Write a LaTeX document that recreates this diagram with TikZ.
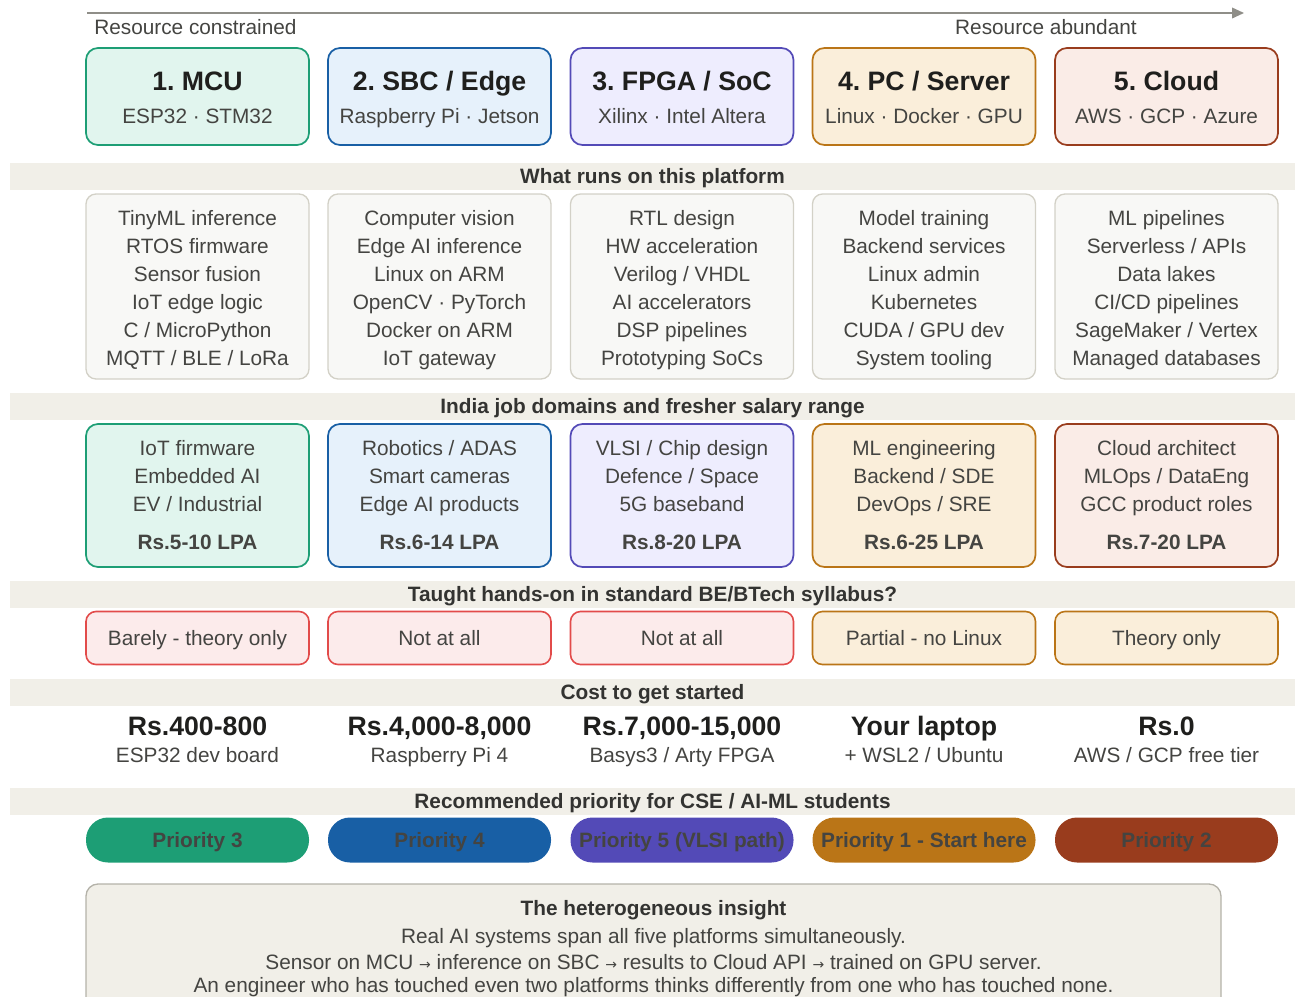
\documentclass[tikz,border=0pt]{standalone}
\usepackage{fontspec}
\setmainfont{Liberation Sans}
\newfontfamily\symfont{DejaVu Sans}
\usepackage{tikz}
\usetikzlibrary{positioning, arrows.meta}
\frenchspacing

\definecolor{ink}{HTML}{444441}
\definecolor{dark}{HTML}{1F1F1D}
\definecolor{head}{HTML}{333331}
\definecolor{bandfill}{HTML}{F1EFE8}
\definecolor{runfill}{HTML}{F8F8F6}
\definecolor{runline}{HTML}{D3D1C7}
\definecolor{axis}{HTML}{8F8E88}
\definecolor{mcufill}{HTML}{E1F5EE}
\definecolor{mculine}{HTML}{1D9E75}
\definecolor{sbcfill}{HTML}{E6F1FB}
\definecolor{sbcline}{HTML}{185FA5}
\definecolor{fpgafill}{HTML}{EEEDFE}
\definecolor{fpgaline}{HTML}{534AB7}
\definecolor{pcfill}{HTML}{FAEEDA}
\definecolor{pcline}{HTML}{BA7517}
\definecolor{cloudfill}{HTML}{FAECE7}
\definecolor{cloudline}{HTML}{993C1D}
\definecolor{redfill}{HTML}{FCEBEB}
\definecolor{redline}{HTML}{E24B4A}
\definecolor{insightline}{HTML}{B4B2A9}

\newcommand{\bodyfont}{\fontsize{15.6}{21}\selectfont}
\newcommand{\bigfont}{\fontsize{20}{24}\selectfont\bfseries}
\newcommand{\arr}{{\symfont\fontsize{10.5}{12}\selectfont →}}

\begin{document}
\begin{tikzpicture}[x=0.75pt, y=-0.75pt,
  txt/.style={inner sep=0pt, text height=11.2pt, text depth=0pt, font=\bodyfont, text=ink},
  ttl/.style={inner sep=0pt, text height=14.3pt, text depth=0pt, font=\bigfont, text=dark},
  multi/.style={inner sep=0pt, align=center, font=\bodyfont, text=ink},
  band/.style={fill=bandfill, inner sep=0pt, minimum width=963.75pt, minimum height=20.25pt,
    text height=11.2pt, text depth=0pt, font=\bodyfont\bfseries, text=head},
  platbox/.style={rounded corners=9pt, line width=1.3pt, minimum width=167.25pt, minimum height=72.75pt, inner sep=0pt},
  runbox/.style={draw=runline, fill=runfill, rounded corners=7.5pt, line width=1pt, minimum width=167.25pt, minimum height=138.75pt, inner sep=0pt},
  jobbox/.style={rounded corners=9pt, line width=1.3pt, minimum width=167.25pt, minimum height=107.25pt, inner sep=0pt},
  sylbox/.style={rounded corners=7.5pt, line width=1.2pt, minimum width=167.25pt, minimum height=39.75pt, inner sep=0pt,
    text height=11.2pt, text depth=0pt, font=\bodyfont, text=ink},
  pill/.style={rounded corners=16.5pt, minimum width=167.25pt, minimum height=33.75pt, inner sep=0pt,
    text height=11.2pt, text depth=0pt, font=\bodyfont\bfseries, text=ink}]

\useasboundingbox (0,0) rectangle (1295,996);
\clip (0,0) rectangle (1295,996);

% resource axis
\coordinate (axisL) at (87,13);
\coordinate (axisR) at (1244,13);
\draw[axis, line width=1.2pt, -{Triangle[length=9pt, width=8pt]}] (axisL) -- (axisR);
\node[txt, anchor=west] (lowres) at (94,27) {Resource constrained};
\node[txt, anchor=east] (highres) at (1137,27) {Resource abundant};

% platforms
\node[platbox, draw=mculine, fill=mcufill] (p1) at (197.5,96.5) {};
\node[platbox, draw=sbcline, fill=sbcfill] (p2) at (439.5,96.5) {};
\node[platbox, draw=fpgaline, fill=fpgafill] (p3) at (682,96.5) {};
\node[platbox, draw=pcline, fill=pcfill] (p4) at (924,96.5) {};
\node[platbox, draw=cloudline, fill=cloudfill] (p5) at (1166.5,96.5) {};

\node[ttl] (p1t) at (197.5,81) {1. MCU};
\node[ttl] (p2t) at (439.5,81) {2. SBC / Edge};
\node[ttl] (p3t) at (682,81) {3. FPGA / SoC};
\node[ttl] (p4t) at (924,81) {4. PC / Server};
\node[ttl] (p5t) at (1166.5,81) {5. Cloud};

\node[txt] (p1s) at (197.5,116) {ESP32 · STM32};
\node[txt] (p2s) at (439.5,116) {Raspberry Pi · Jetson};
\node[txt] (p3s) at (682,116) {Xilinx · Intel Altera};
\node[txt] (p4s) at (924,116) {Linux · Docker · GPU};
\node[txt] (p5s) at (1166.5,116) {AWS · GCP · Azure};

% what runs
\node[band] (runhead) at (652.5,176.5) {What runs on this platform};

\node[runbox] (r1) at (197.5,286.5) {};
\node[runbox] (r2) at (439.5,286.5) {};
\node[runbox] (r3) at (682,286.5) {};
\node[runbox] (r4) at (924,286.5) {};
\node[runbox] (r5) at (1166.5,286.5) {};

\node[multi] (r1t) at (197.5,290) {TinyML inference\\RTOS firmware\\Sensor fusion\\IoT edge logic\\C / MicroPython\\MQTT / BLE / LoRa};
\node[multi] (r2t) at (439.5,290) {Computer vision\\Edge AI inference\\Linux on ARM\\OpenCV · PyTorch\\Docker on ARM\\IoT gateway};
\node[multi] (r3t) at (682,290) {RTL design\\HW acceleration\\Verilog / VHDL\\AI accelerators\\DSP pipelines\\Prototyping SoCs};
\node[multi] (r4t) at (924,290) {Model training\\Backend services\\Linux admin\\Kubernetes\\CUDA / GPU dev\\System tooling};
\node[multi] (r5t) at (1166.5,290) {ML pipelines\\Serverless / APIs\\Data lakes\\CI/CD pipelines\\SageMaker / Vertex\\Managed databases};

% jobs and salary
\node[band] (jobhead) at (652.5,406) {India job domains and fresher salary range};

\node[jobbox, draw=mculine, fill=mcufill] (j1) at (197.5,495.5) {};
\node[jobbox, draw=sbcline, fill=sbcfill] (j2) at (439.5,495.5) {};
\node[jobbox, draw=fpgaline, fill=fpgafill] (j3) at (682,495.5) {};
\node[jobbox, draw=pcline, fill=pcfill] (j4) at (924,495.5) {};
\node[jobbox, draw=cloudline, fill=cloudfill] (j5) at (1166.5,495.5) {};

\node[multi] (j1t) at (197.5,495) {IoT firmware\\Embedded AI\\EV / Industrial\\[7.5pt]\textbf{Rs.5-10 LPA}};
\node[multi] (j2t) at (439.5,495) {Robotics / ADAS\\Smart cameras\\Edge AI products\\[7.5pt]\textbf{Rs.6-14 LPA}};
\node[multi] (j3t) at (682,495) {VLSI / Chip design\\Defence / Space\\5G baseband\\[7.5pt]\textbf{Rs.8-20 LPA}};
\node[multi] (j4t) at (924,495) {ML engineering\\Backend / SDE\\DevOps / SRE\\[7.5pt]\textbf{Rs.6-25 LPA}};
\node[multi] (j5t) at (1166.5,495) {Cloud architect\\MLOps / DataEng\\GCC product roles\\[7.5pt]\textbf{Rs.7-20 LPA}};

% syllabus
\node[band] (sylhead) at (652.5,594) {Taught hands-on in standard BE/BTech syllabus?};

\node[sylbox, draw=redline, fill=redfill] (s1) at (197.5,638) {Barely - theory only};
\node[sylbox, draw=redline, fill=redfill] (s2) at (439.5,638) {Not at all};
\node[sylbox, draw=redline, fill=redfill] (s3) at (682,638) {Not at all};
\node[sylbox, draw=pcline, fill=pcfill] (s4) at (924,638) {Partial - no Linux};
\node[sylbox, draw=pcline, fill=pcfill] (s5) at (1166.5,638) {Theory only};

% cost
\node[band] (costhead) at (652.5,692.5) {Cost to get started};

\node[ttl] (c1t) at (197.5,726) {Rs.400-800};
\node[ttl] (c2t) at (439.5,726) {Rs.4,000-8,000};
\node[ttl] (c3t) at (682,726) {Rs.7,000-15,000};
\node[ttl] (c4t) at (924,726) {Your laptop};
\node[ttl] (c5t) at (1166.5,726) {Rs.0};

\node[txt] (c1s) at (197.5,755) {ESP32 dev board};
\node[txt] (c2s) at (439.5,755) {Raspberry Pi 4};
\node[txt] (c3s) at (682,755) {Basys3 / Arty FPGA};
\node[txt] (c4s) at (924,755) {+ WSL2 / Ubuntu};
\node[txt] (c5s) at (1166.5,755) {AWS / GCP free tier};

% priority
\node[band] (prihead) at (652.5,801.5) {Recommended priority for CSE / AI-ML students};

\node[pill, fill=mculine] (q1) at (197.5,840) {Priority 3};
\node[pill, fill=sbcline] (q2) at (439.5,840) {Priority 4};
\node[pill, fill=fpgaline] (q3) at (682,840) {Priority 5 (VLSI path)};
\node[pill, fill=pcline] (q4) at (924,840) {Priority 1 - Start here};
\node[pill, fill=cloudline] (q5) at (1166.5,840) {Priority 2};

% insight
\node[draw=insightline, fill=bandfill, line width=1pt, rounded corners=9pt,
  minimum width=851.25pt, minimum height=94.5pt, inner sep=0pt] (insight) at (653.5,947) {};
\node[txt, font=\bodyfont\bfseries, text=head] (ins0) at (653.5,908) {The heterogeneous insight};
\node[txt] (ins1) at (653.5,936) {Real AI systems span all five platforms simultaneously.};
\node[txt] (ins2) at (653.5,962) {Sensor on MCU \arr{} inference on SBC \arr{} results to Cloud API \arr{} trained on GPU server.};
\node[txt] (ins3) at (653.5,985) {An engineer who has touched even two platforms thinks differently from one who has touched none.};
\end{tikzpicture}
\end{document}
